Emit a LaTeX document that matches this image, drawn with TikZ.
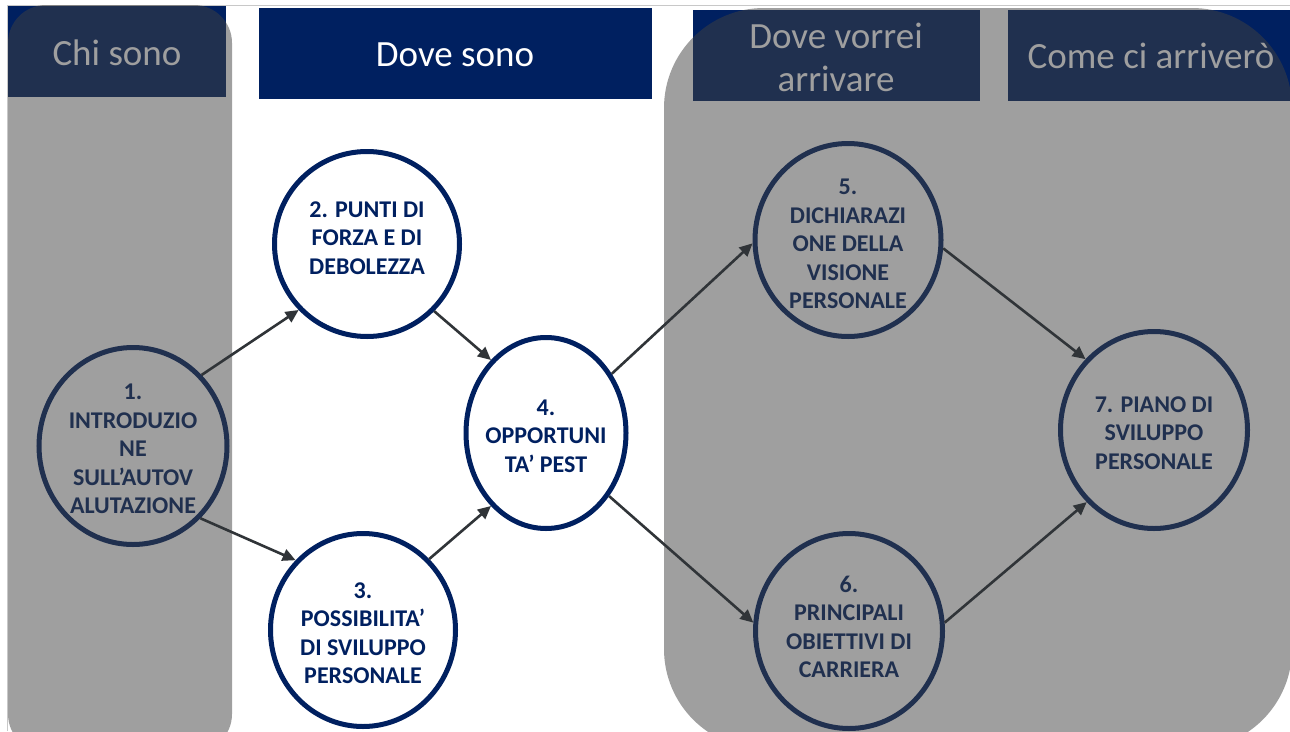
\documentclass[tikz,border=0pt]{standalone}
\usepackage{fontspec}
\setmainfont{Carlito}
\usetikzlibrary{arrows.meta,shapes.geometric}
\definecolor{navy}{HTML}{002060}
\definecolor{arrowc}{HTML}{303438}
\definecolor{shade}{HTML}{404040}
\definecolor{framec}{HTML}{C8C8C8}
\begin{document}
\begin{tikzpicture}[x=1pt,y=-1pt,
  hdr/.style={fill=navy,draw=none},
  hdrtext/.style={text=white,font=\fontsize{37}{43}\selectfont,align=center,inner sep=0pt},
  stage/.style={ellipse,draw=navy,line width=5pt,fill=white,inner sep=0pt},
  stagetext/.style={text=navy,font=\bfseries\fontsize{24}{28.5}\selectfont,align=center,inner sep=0pt},
  link/.style={draw=arrowc,line width=2.6pt,-{Triangle[length=13pt,width=12pt]}},
  veil/.style={fill=shade,fill opacity=0.5,draw=none}]
\useasboundingbox (0,0) rectangle (1290,731);
\clip (0,0) rectangle (1290,731);
\fill[white] (0,0) rectangle (1290,731);
\draw[framec,line width=1pt] (7,731) -- (7,5) -- (1290,5);

% headers
\fill[hdr] (8,6) rectangle (226,97);
\node[hdrtext] (h1) at (117,53) {Chi sono};
\fill[hdr] (259,8) rectangle (652,99);
\node[hdrtext] (h2) at (455,55) {Dove sono};
\fill[hdr] (693,10) rectangle (980,101);
\node[hdrtext] (h3) at (836,57) {Dove vorrei\\arrivare};
\fill[hdr] (1008,10) rectangle (1290,101);
\node[hdrtext] (h4) at (1151,56) {Come ci arriverò};

% stages
\node[stage,minimum width=188pt,minimum height=197pt] (c1) at (133,446) {};
\node[stagetext] (t1) at (133,449) {1.\\INTRODUZIO\\NE\\SULL’AUTOV\\ALUTAZIONE};
\node[stage,minimum width=185pt,minimum height=185pt] (c2) at (367,244) {};
\node[stagetext] (t2) at (367,238) {2. PUNTI DI\\FORZA E DI\\DEBOLEZZA};
\node[stage,minimum width=160pt,minimum height=191pt] (c4) at (546,433) {};
\node[stage,minimum width=185pt,minimum height=193pt] (c3) at (363,630) {};
\node[stagetext] (t3) at (363,633) {3.\\POSSIBILITA’\\DI SVILUPPO\\PERSONALE};
\node[stagetext] (t4) at (546,436) {4.\\OPPORTUNI\\TA’ PEST};
\node[stage,minimum width=186pt,minimum height=193pt] (c5) at (848,240) {};
\node[stagetext] (t5) at (848,244) {5.\\DICHIARAZI\\ONE DELLA\\VISIONE\\PERSONALE};
\node[stage,minimum width=187pt,minimum height=195pt] (c6) at (849,631) {};
\node[stagetext] (t6) at (849,627) {6.\\PRINCIPALI\\OBIETTIVI DI\\CARRIERA};
\node[stage,minimum width=187pt,minimum height=197pt] (c7) at (1154,430) {};
\node[stagetext] (t7) at (1154,433) {7. PIANO DI\\SVILUPPO\\PERSONALE};

% veils
\path[veil,rounded corners=38pt] (8,5) rectangle (232,752);
\path[veil,rounded corners=100pt] (664,8) rectangle (1292,749);

% links
\draw[link] (c1.46) -- (c2.224);
\draw[link] (c1.-47) -- (c3.134);
\draw[link] (c2.-45) -- (c4.127);
\draw[link] (c3.47) -- (c4.233);
\draw[link] (c4.42) -- (c5.182);
\draw[link] (c4.-45) -- (c6.175);
\draw[link] (c5.-5) -- (c7.134);
\draw[link] (c6.5) -- (c7.227);
\end{tikzpicture}
\end{document}
